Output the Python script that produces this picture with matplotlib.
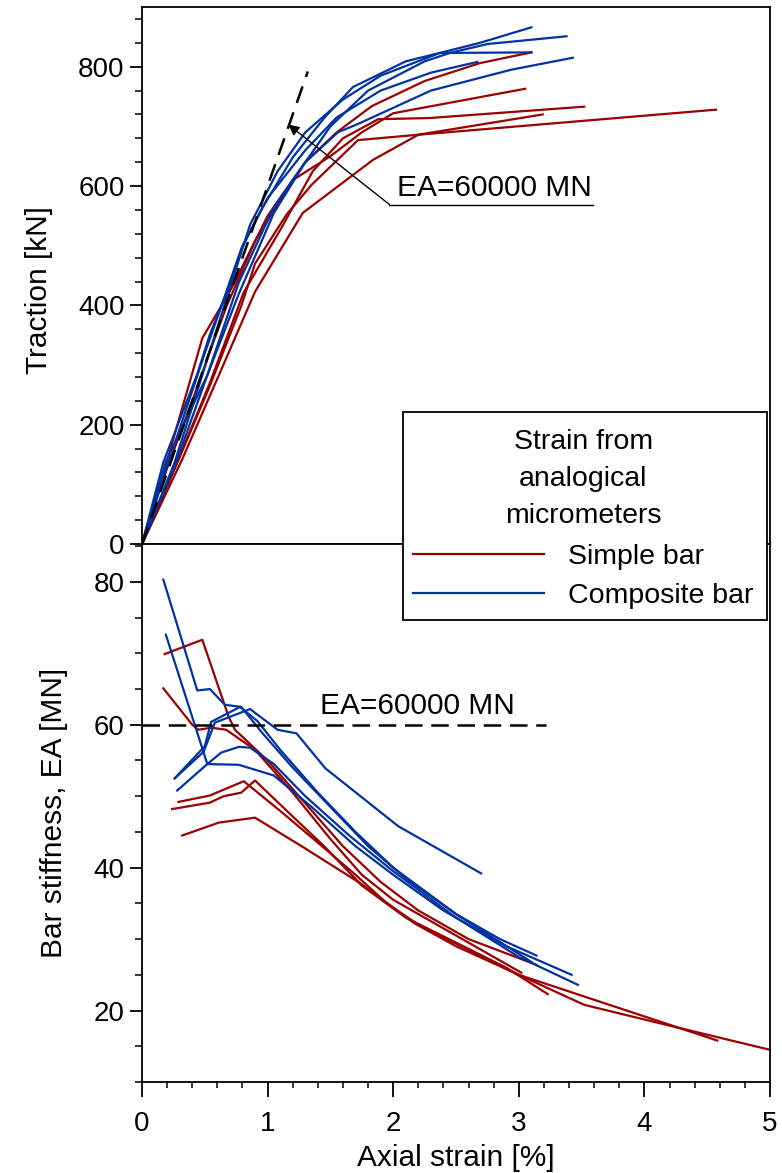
import numpy as np
import matplotlib.pyplot as plt
from matplotlib.ticker import MultipleLocator
from matplotlib.lines import Line2D
from matplotlib.patches import Rectangle

plt.rcParams['font.family'] = ['Liberation Sans', 'DejaVu Sans']

rouge = '#9B0000'
bleu = '#0033A0'

# Traction - courbes barre simple (deformation %, traction kN)
r1_x = [0, 0.18, 0.48, 0.69, 0.74, 1.0, 1.3, 1.55, 1.83, 2.25, 2.69, 3.10]
r1_y = [0, 125, 345, 420, 440, 550, 640, 690, 734, 776, 806, 824]
r2_x = [0, 0.17, 0.40, 0.55, 0.67, 0.9, 1.2, 1.5, 1.75, 2.0, 3.05]
r2_y = [0, 110, 240, 328, 397, 508, 610, 650, 690, 722, 763]
r3_x = [0, 0.29, 0.54, 0.81, 1.11, 1.36, 1.6, 1.88, 2.29, 3.52]
r3_y = [0, 142, 270, 422, 530, 625, 680, 712, 714, 733]
r4_x = [0, 0.24, 0.54, 0.79, 0.90, 1.15, 1.35, 1.72, 2.2, 3.19]
r4_y = [0, 116, 265, 399, 470, 552, 602, 677, 686, 720]
r5_x = [0, 0.32, 0.61, 0.90, 1.28, 1.84, 2.2, 4.57]
r5_y = [0, 142, 282, 423, 555, 644, 686, 728]

# Traction - courbes barre composite
b1_x = [0, 0.17, 0.44, 0.54, 0.66, 0.79, 0.96, 1.2, 1.45, 1.68, 2.1, 2.37, 2.69, 3.10]
b1_y = [0, 137, 285, 351, 414, 494, 564, 648, 714, 766, 809, 823, 840, 866]
b2_x = [0, 0.19, 0.52, 0.77, 1.05, 1.3, 1.5, 1.8, 2.25, 2.45, 2.75, 3.38]
b2_y = [0, 138, 283, 419, 555, 640, 700, 760, 809, 823, 838, 851]
b3_x = [0, 0.26, 0.55, 0.86, 1.08, 1.3, 1.6, 1.9, 2.37, 3.10]
b3_y = [0, 137, 330, 535, 625, 690, 745, 785, 823, 824]
b4_x = [0, 0.28, 0.52, 0.77, 1.05, 1.3, 1.56, 1.73, 2.3, 2.94, 3.43]
b4_y = [0, 142, 283, 438, 565, 640, 690, 705, 760, 795, 815]
b5_x = [0, 0.2, 0.5, 0.8, 1.0, 1.3, 1.55, 1.9, 2.3, 2.67]
b5_y = [0, 130, 320, 500, 580, 660, 715, 760, 790, 808]

# Rigidite EA [MN] - barre simple
rb1_x = [0.18, 0.48, 0.69, 0.74, 1.0, 1.3, 1.6, 1.9, 2.2, 2.6, 3.14]
rb1_y = [69.9, 71.9, 61.1, 59.3, 55, 49, 43, 38, 34, 30, 26.4]
rb2_x = [0.17, 0.40, 0.45, 0.55, 0.67, 0.9, 1.2, 1.5, 1.75, 2.0, 2.3, 2.7, 3.02]
rb2_y = [65.1, 60, 59.3, 59.6, 59.3, 56.5, 50.5, 44, 39, 35.5, 32.5, 28.5, 25.3]
rb3_x = [0.29, 0.54, 0.81, 1.11, 1.4, 1.7, 1.95, 2.2, 2.6, 3.0, 3.52, 4.08, 5.0]
rb3_y = [49.2, 50.1, 52.1, 47.8, 43.5, 39, 35, 32, 28.5, 25, 20.8, 18.4, 14.5]
rb4_x = [0.24, 0.54, 0.65, 0.79, 0.90, 1.15, 1.45, 1.75, 2.1, 2.5, 2.9, 3.23]
rb4_y = [48.2, 49.1, 50, 50.5, 52.2, 48, 43, 37.5, 33, 29.5, 26, 22.3]
rb5_x = [0.32, 0.61, 0.90, 1.28, 1.74, 2.17, 2.5, 3.0, 3.6, 4.58]
rb5_y = [44.5, 46.3, 47.0, 42.9, 37.8, 32.2, 29, 25, 21.5, 15.8]

# Rigidite EA [MN] - barre composite
bb1_x = [0.17, 0.44, 0.54, 0.66, 0.79, 0.96, 1.2, 1.5, 1.8, 2.1, 2.5, 2.85, 3.14]
bb1_y = [80.3, 64.8, 65.0, 62.8, 62.5, 58.8, 54, 48.5, 43, 38.5, 33.5, 30, 27.7]
bb2_x = [0.19, 0.52, 0.77, 1.05, 1.35, 1.7, 2.0, 2.4, 2.9, 3.42]
bb2_y = [72.6, 54.5, 54.4, 52.9, 48.5, 43, 39, 34, 29, 25.0]
bb3_x = [0.28, 0.52, 0.63, 0.77, 0.86, 1.05, 1.3, 1.65, 2.0, 2.5, 3.0, 3.47]
bb3_y = [50.8, 54.5, 56.1, 56.9, 56.8, 54.5, 50, 44.5, 39.5, 33, 27.5, 23.6]
bb4_x = [0.26, 0.5, 0.55, 0.78, 0.92, 1.1, 1.4, 1.7, 2.0, 2.5, 3.1]
bb4_y = [52.5, 57, 60.4, 62.5, 60.5, 56.5, 50.5, 45, 40, 33.5, 26.8]
bb5_x = [0.26, 0.49, 0.58, 0.86, 1.08, 1.23, 1.46, 2.04, 2.70]
bb5_y = [52.5, 56.2, 60.3, 62.2, 59.3, 58.8, 53.9, 45.8, 39.2]

# Droite de reference EA = 60000 MN
ref_x = [0, 1.32]
ref_y = [0, 792]
ref_ea_x = [0, 3.22]
ref_ea_y = [60, 60]

fig = plt.figure(figsize=(7.82, 11.73), dpi=100)
ax1 = fig.add_axes([0.1816, 0.5362, 0.8031, 0.4578])
ax2 = fig.add_axes([0.1816, 0.0776, 0.8031, 0.4586])

lw = 1.6
for xs, ys in [(r1_x, r1_y), (r2_x, r2_y), (r3_x, r3_y), (r4_x, r4_y), (r5_x, r5_y)]:
    ax1.plot(xs, ys, color=rouge, lw=lw)
for xs, ys in [(b1_x, b1_y), (b2_x, b2_y), (b3_x, b3_y), (b4_x, b4_y), (b5_x, b5_y)]:
    ax1.plot(xs, ys, color=bleu, lw=lw)
ax1.plot(ref_x, ref_y, color='k', lw=1.8, dashes=(7, 4))

for xs, ys in [(rb1_x, rb1_y), (rb2_x, rb2_y), (rb3_x, rb3_y), (rb4_x, rb4_y), (rb5_x, rb5_y)]:
    ax2.plot(xs, ys, color=rouge, lw=lw)
for xs, ys in [(bb1_x, bb1_y), (bb2_x, bb2_y), (bb3_x, bb3_y), (bb4_x, bb4_y), (bb5_x, bb5_y)]:
    ax2.plot(xs, ys, color=bleu, lw=lw)
ax2.plot(ref_ea_x, ref_ea_y, color='k', lw=1.8, dashes=(7, 3.5))

# annotations
ax1.annotate('', xy=(1.165, 703), xytext=(1.97, 569),
             arrowprops=dict(arrowstyle='-|>', color='k', lw=1, mutation_scale=16, shrinkA=0, shrinkB=0))
ax1.plot([1.97, 3.59], [569, 569], color='k', lw=1)
ax1.text(2.03, 574, 'EA=60000 MN', fontsize=21.5, va='bottom', ha='left')
ax2.text(1.42, 60.7, 'EA=60000 MN', fontsize=21.5, va='bottom', ha='left')

# axes
for ax in (ax1, ax2):
    ax.set_xlim(0, 5)
    for s in ax.spines.values():
        s.set_linewidth(1.3)
    ax.tick_params(which='major', direction='out', length=9, width=1.3, labelsize=20)
    ax.tick_params(which='minor', direction='out', length=5, width=1.1)
    ax.tick_params(right=False, top=False)

ax1.set_ylim(0, 900)
ax1.yaxis.set_major_locator(MultipleLocator(200))
ax1.yaxis.set_minor_locator(MultipleLocator(40))
ax1.tick_params(axis='x', which='both', bottom=False, labelbottom=False)
ax1.set_ylabel('Traction [kN]', fontsize=21.5)
ax1.yaxis.set_label_coords(-0.142, 0.473)

ax2.set_ylim(10, 85.3)
ax2.yaxis.set_major_locator(MultipleLocator(20))
ax2.yaxis.set_minor_locator(MultipleLocator(5))
ax2.xaxis.set_major_locator(MultipleLocator(1))
ax2.xaxis.set_minor_locator(MultipleLocator(0.2))
ax2.tick_params(axis='x', which='major', length=11, pad=10)
ax2.tick_params(axis='x', which='minor', length=4.5)
ax2.set_ylabel('Bar stiffness, EA [MN]', fontsize=21.5)
ax2.yaxis.set_label_coords(-0.118, 0.5)
ax2.set_xlabel('Axial strain [%]', fontsize=21.5, labelpad=5)

# legende (cadre dessine a part)
cadre = Rectangle((403 / 782, 1 - 620 / 1173), 364 / 782, 208 / 1173, transform=fig.transFigure,
                  fill=True, facecolor='white', edgecolor='k', lw=1.3, zorder=5)
fig.patches.append(cadre)
handles = [Line2D([], [], color=rouge, lw=lw), Line2D([], [], color=bleu, lw=lw)]
leg = fig.legend(handles, ['Simple bar', 'Composite bar'], title='Strain from\nanalogical\nmicrometers',
                 loc='upper left', bbox_to_anchor=(413 / 782, 1 - 429 / 1173), fontsize=20.5,
                 title_fontsize=20.5, frameon=False, handlelength=4.6, handletextpad=0.85,
                 borderpad=0, labelspacing=0.45, borderaxespad=0)
leg.set_zorder(6)
leg.get_title().set_linespacing(1.55)
leg.get_title().set_multialignment('center')
leg._legend_box.sep = 11

fig.savefig('out.png', dpi=100)
